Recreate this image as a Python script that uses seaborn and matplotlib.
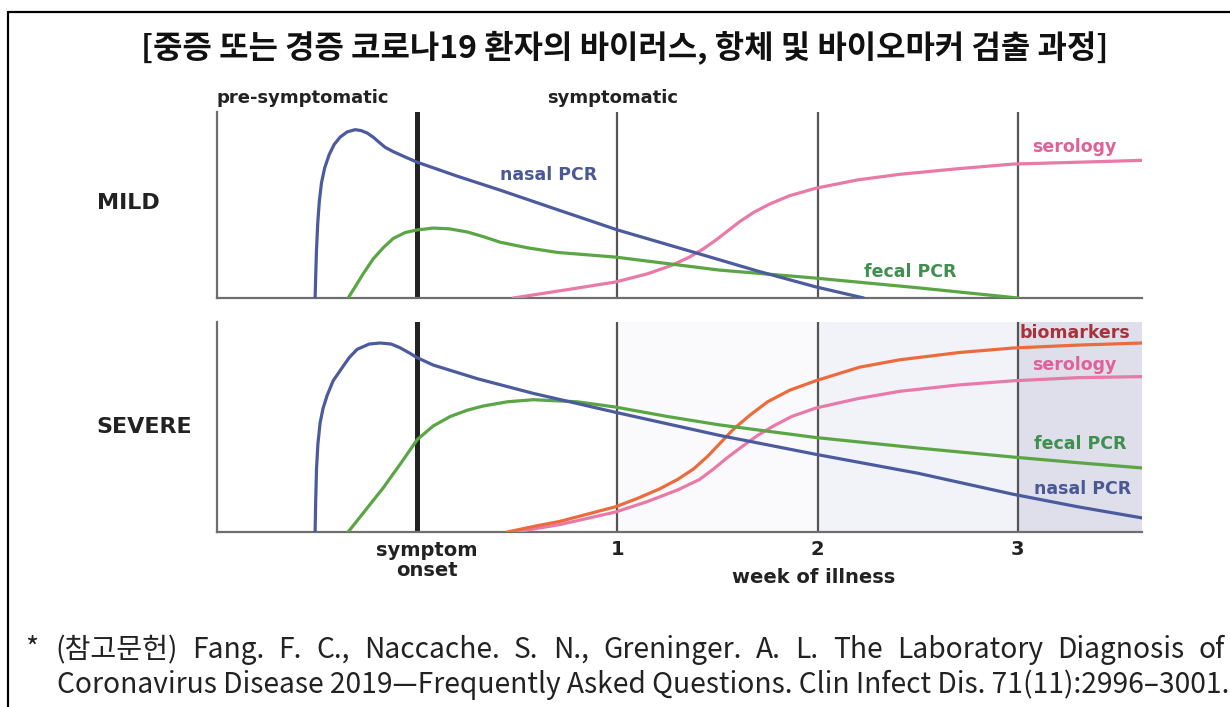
import pandas as pd
import matplotlib
matplotlib.use('Agg')
import matplotlib.pyplot as plt
import seaborn as sns
from matplotlib import font_manager
from matplotlib.lines import Line2D

sns.set_theme(style='white')
plt.rcParams['font.family'] = ['DejaVu Sans', 'Noto Sans CJK KR']

W, H = 1230, 707

# weeks after symptom onset (0 = onset), relative level (0 = baseline, 1 = top of panel)
mild_nasal_x = [-0.51, -0.507, -0.503, -0.497, -0.489, -0.478, -0.462, -0.44, -0.415, -0.385, -0.35, -0.31,
                -0.28, -0.25, -0.22, -0.19, -0.16, -0.12, -0.06, 0.0, 0.2, 0.414, 0.7, 1.0, 1.41, 1.7, 1.99, 2.23]
mild_nasal_y = [0.0, 0.12, 0.26, 0.40, 0.52, 0.62, 0.70, 0.77, 0.825, 0.865, 0.893, 0.905,
                0.90, 0.887, 0.865, 0.837, 0.81, 0.787, 0.758, 0.73, 0.655, 0.58, 0.475, 0.366, 0.237, 0.145, 0.06, 0.0]

mild_fecal_x = [-0.345, -0.31, -0.27, -0.22, -0.17, -0.12, -0.06, 0.0, 0.08, 0.16, 0.25, 0.33, 0.414,
                0.55, 0.7, 0.99, 1.25, 1.51, 1.99, 2.5, 3.0]
mild_fecal_y = [0.0, 0.06, 0.13, 0.21, 0.27, 0.32, 0.352, 0.366, 0.376, 0.372, 0.355, 0.33, 0.30,
                0.27, 0.245, 0.22, 0.185, 0.15, 0.107, 0.055, 0.0]

mild_sero_x = [0.48, 0.6, 0.75, 0.99, 1.15, 1.27, 1.36, 1.43, 1.49, 1.55, 1.61, 1.68, 1.76, 1.86, 1.99,
               2.2, 2.41, 2.7, 2.975, 3.3, 3.62]
mild_sero_y = [0.0, 0.02, 0.045, 0.086, 0.13, 0.175, 0.22, 0.265, 0.31, 0.36, 0.41, 0.46, 0.505, 0.55, 0.59,
               0.635, 0.665, 0.695, 0.72, 0.73, 0.74]

severe_nasal_x = [-0.51, -0.507, -0.503, -0.496, -0.485, -0.47, -0.45, -0.42, -0.384, -0.34, -0.30, -0.24,
                  -0.185, -0.13, -0.085, -0.04, 0.0, 0.08, 0.3, 0.58, 0.99, 1.51, 1.99, 2.5, 2.975, 3.3, 3.62]
severe_nasal_y = [0.0, 0.15, 0.30, 0.42, 0.52, 0.59, 0.65, 0.72, 0.77, 0.83, 0.87, 0.895,
                  0.90, 0.895, 0.877, 0.853, 0.83, 0.795, 0.73, 0.66, 0.57, 0.46, 0.37, 0.28, 0.18, 0.12, 0.067]

severe_fecal_x = [-0.345, -0.27, -0.17, -0.08, 0.0, 0.08, 0.165, 0.25, 0.33, 0.45, 0.58, 0.8, 0.99,
                  1.25, 1.51, 1.99, 2.5, 2.975, 3.3, 3.62]
severe_fecal_y = [0.0, 0.09, 0.21, 0.33, 0.44, 0.505, 0.55, 0.58, 0.60, 0.62, 0.63, 0.62, 0.595,
                  0.55, 0.51, 0.45, 0.40, 0.357, 0.33, 0.305]

severe_bio_x = [0.45, 0.6, 0.71, 0.85, 0.99, 1.1, 1.21, 1.3, 1.38, 1.45, 1.52, 1.58, 1.66, 1.75, 1.86,
                1.99, 2.21, 2.41, 2.71, 2.975, 3.3, 3.62]
severe_bio_y = [0.0, 0.03, 0.05, 0.085, 0.12, 0.16, 0.205, 0.25, 0.30, 0.36, 0.43, 0.49, 0.555, 0.62, 0.675,
                0.72, 0.785, 0.82, 0.855, 0.876, 0.89, 0.90]

severe_sero_x = [0.49, 0.71, 0.99, 1.15, 1.3, 1.41, 1.48, 1.55, 1.62, 1.7, 1.78, 1.87, 1.99, 2.2, 2.41, 2.7,
                 2.975, 3.3, 3.62]
severe_sero_y = [0.0, 0.035, 0.095, 0.145, 0.2, 0.25, 0.30, 0.355, 0.405, 0.46, 0.505, 0.55, 0.59, 0.635, 0.67, 0.70,
                 0.72, 0.735, 0.74]

week_ticks = [1, 2, 3]
week_labels = ['1', '2', '3']

colors = {'nasal PCR': '#4c5a9e', 'fecal PCR': '#5aa544', 'serology': '#e979a6', 'biomarkers': '#ec6b3d'}
label_colors = {'nasal PCR': '#4a5894', 'fecal PCR': '#3f8f4f', 'serology': '#e0609a', 'biomarkers': '#a8323c'}


def make_df(series):
    parts = []
    for name, xs, ys in series:
        parts.append(pd.DataFrame({'week': xs, 'level': ys, 'marker': name}))
    return pd.concat(parts, ignore_index=True)


mild_df = make_df([('serology', mild_sero_x, mild_sero_y),
                   ('fecal PCR', mild_fecal_x, mild_fecal_y),
                   ('nasal PCR', mild_nasal_x, mild_nasal_y)])
severe_df = make_df([('serology', severe_sero_x, severe_sero_y),
                     ('biomarkers', severe_bio_x, severe_bio_y),
                     ('fecal PCR', severe_fecal_x, severe_fecal_y),
                     ('nasal PCR', severe_nasal_x, severe_nasal_y)])

fig = plt.figure(figsize=(W / 100, H / 100), dpi=100)
fig.patch.set_facecolor('white')


def px_axes(x0, x1, ytop, ybot):
    return fig.add_axes([x0 / W, 1 - ybot / H, (x1 - x0) / W, (ybot - ytop) / H])


ax_m = px_axes(217, 1142, 112, 298)
ax_s = px_axes(217, 1142, 322, 532)

# shaded phases in the severe panel
ax_s.axvspan(1, 2, color='#fafafd', zorder=0, lw=0)
ax_s.axvspan(2, 3, color='#f2f3f8', zorder=0, lw=0)
ax_s.axvspan(3, 3.62, color='#dedfea', zorder=0, lw=0)

for ax, d in [(ax_m, mild_df), (ax_s, severe_df)]:
    ax.axvline(0, color='#222222', lw=3.6, zorder=1)
    for w in week_ticks:
        ax.axvline(w, color='#555555', lw=1.6, zorder=1)
    sns.lineplot(data=d, x='week', y='level', hue='marker', palette=colors, estimator=None,
                 sort=False, legend=False, linewidth=2.3, ax=ax, zorder=3)
    ax.set_xlim(-1.0, 3.62)
    ax.set_ylim(0, 1)
    ax.set_xticks([])
    ax.set_yticks([])
    ax.set_xlabel('')
    ax.set_ylabel('')
    ax.set_facecolor('none')
    for side in ['top', 'right']:
        ax.spines[side].set_visible(False)
    for side in ['left', 'bottom']:
        ax.spines[side].set_color('#6e6e6e')
        ax.spines[side].set_linewidth(1.6)

lab = dict(fontsize=12.5, fontweight='bold', va='center', ha='left', clip_on=False)
ax_m.text(-1.0, 1.075, 'pre-symptomatic', color='#222222', **dict(lab, fontsize=13))
ax_m.text(0.65, 1.075, 'symptomatic', color='#222222', **dict(lab, fontsize=13))
ax_m.text(0.414, 0.66, 'nasal PCR', color=label_colors['nasal PCR'], **lab)
ax_m.text(3.07, 0.81, 'serology', color=label_colors['serology'], **lab)
ax_m.text(2.23, 0.14, 'fecal PCR', color=label_colors['fecal PCR'], **lab)

ax_s.text(3.01, 0.95, 'biomarkers', color=label_colors['biomarkers'], **lab)
ax_s.text(3.07, 0.795, 'serology', color=label_colors['serology'], **lab)
ax_s.text(3.08, 0.42, 'fecal PCR', color=label_colors['fecal PCR'], **lab)
ax_s.text(3.08, 0.205, 'nasal PCR', color=label_colors['nasal PCR'], **lab)

tick = dict(fontsize=14, fontweight='bold', color='#222222', ha='center', clip_on=False)
ax_s.text(0.05, -0.135, 'symptom\nonset', va='center', linespacing=1.05, **tick)
for w, t in zip(week_ticks, week_labels):
    ax_s.text(w, -0.085, t, va='center', **tick)
ax_s.text(1.98, -0.215, 'week of illness', va='center', **tick)

fig.text(97 / W, 1 - 203 / H, 'MILD', fontsize=16, fontweight='bold', color='#222222', va='center')
fig.text(96 / W, 1 - 427 / H, 'SEVERE', fontsize=16, fontweight='bold', color='#222222', va='center')

# title
fig.text(625 / W, 1 - 47 / H, '[중증 또는 경증 코로나19 환자의 바이러스, 항체 및 바이오마커 검출 과정]',
         fontsize=23, fontweight='bold', ha='center', va='center', color='#111111',
         family=['Noto Sans CJK KR', 'DejaVu Sans'])

# frame around the figure
fig.add_artist(Line2D([8 / W, 1.01], [1 - 12 / H, 1 - 12 / H], color='black', lw=1.6, transform=fig.transFigure))
fig.add_artist(Line2D([8 / W, 8 / W], [1 - 12 / H, -0.01], color='black', lw=1.6, transform=fig.transFigure))

# footnote, narrow font if there is one
names = {f.name for f in font_manager.fontManager.ttflist}
note_family = ['Liberation Sans Narrow', 'Noto Sans CJK KR'] if 'Liberation Sans Narrow' in names else ['Noto Sans CJK KR', 'DejaVu Sans']
renderer = fig.canvas.get_renderer()

line2 = 'Coronavirus Disease 2019\u2014Frequently Asked Questions. Clin Infect Dis. 71(11):2996\u20133001.'
t2 = fig.text(57 / W, 1 - 685 / H, line2, fontsize=20, va='center', ha='left', color='#222222', family=note_family)
w2 = t2.get_window_extent(renderer).width
note_size = 20 * (1228 - 57) / w2
t2.set_fontsize(note_size)

fig.text(25 / W, 1 - 650 / H, '*', fontsize=note_size, va='center', ha='left', color='#222222', family=note_family)
words = '(참고문헌) Fang. F. C., Naccache. S. N., Greninger. A. L. The Laboratory Diagnosis of'.split(' ')
txts = [fig.text(0, 1 - 650 / H, wd, fontsize=note_size, va='center', ha='left', color='#222222', family=note_family)
        for wd in words]
widths = [t.get_window_extent(renderer).width for t in txts]
gap = ((1225 - 55) - sum(widths)) / (len(words) - 1)
x = 55
for t, wd in zip(txts, widths):
    t.set_x(x / W)
    x += wd + gap

fig.savefig('out.png', dpi=100)
